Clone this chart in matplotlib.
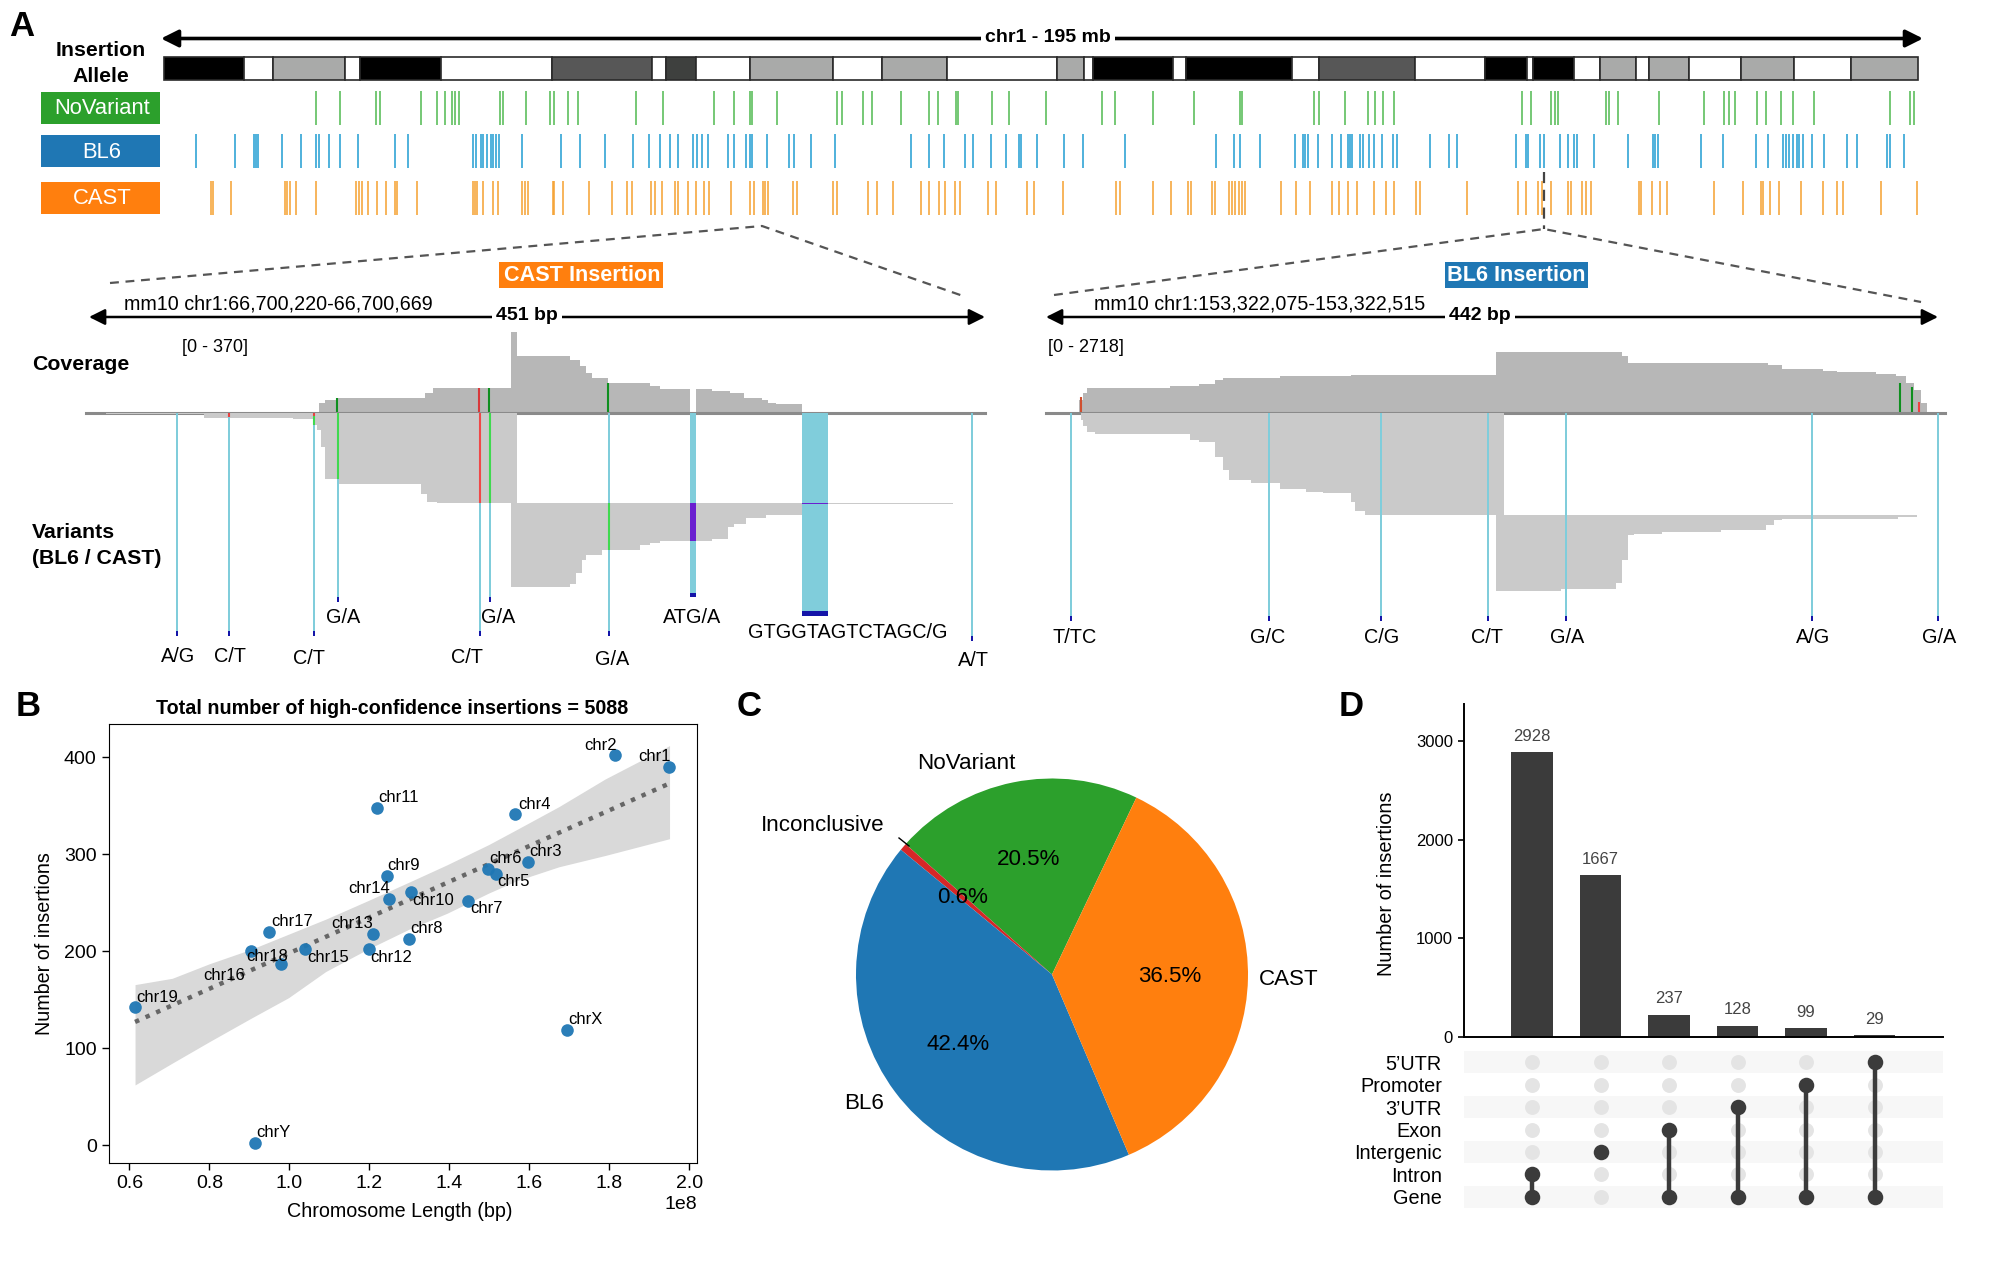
import numpy as np
import matplotlib
matplotlib.use("Agg")
import matplotlib.pyplot as plt

plt.rcParams['font.family'] = ['Liberation Sans', 'DejaVu Sans']

W, H = 2000, 1266

# ---- panel A: chr1 ideogram (Mb) ----
band_ends = [8.9, 12.1, 20.1, 21.8, 30.8, 43.1, 54.2, 55.8, 59.2, 65.1, 74.4, 79.8, 87.1, 99.3, 102.3, 103.3, 112.2,
             113.6, 125.4, 128.4, 139.1, 146.9, 151.5, 152.2, 156.8, 159.7, 163.6, 165.1, 169.5, 175.3, 181.2, 187.6, 195.0]
band_stain = ['k', 'w', 'g', 'w', 'k', 'w', 'd', 'w', 'x', 'w', 'g', 'w', 'g', 'w', 'g', 'w', 'k',
              'w', 'k', 'w', 'd', 'w', 'k', 'w', 'k', 'w', 'g', 'w', 'g', 'w', 'g', 'w', 'g']

novariant_pos = [16.9, 19.6, 23.6, 24.0, 28.6, 30.3, 31.2, 32.0, 32.3, 32.8, 37.3, 37.7, 40.2, 42.9, 43.4, 44.9, 46.0,
                 52.5, 55.5, 61.2, 63.4, 65.1, 65.4, 68.2, 74.8, 75.4, 77.7, 78.7, 81.9, 85.1, 86.0, 88.0, 88.3, 92.0,
                 93.9, 98.1, 104.3, 105.7, 109.9, 114.5, 119.6, 119.9, 127.9, 128.4, 131.3, 133.8, 134.6, 135.5, 136.8,
                 151.0, 152.0, 154.2, 154.6, 155.0, 160.3, 160.7, 161.6, 166.2, 171.2, 173.4, 174.0, 174.6, 177.1,
                 178.1, 179.8, 181.1, 183.4, 191.9, 194.1, 194.6]
bl6_pos = [3.6, 7.9, 10.0, 10.2, 10.5, 13.1, 15.2, 16.9, 17.2, 18.3, 19.6, 21.6, 25.7, 27.1, 34.3, 34.7, 35.2, 35.5,
           35.9, 36.3, 36.6, 36.9, 37.2, 39.8, 44.1, 46.3, 49.0, 52.1, 53.9, 55.1, 56.3, 57.1, 58.8, 59.3, 59.8, 60.5,
           62.7, 63.4, 64.7, 65.1, 65.4, 67.0, 69.5, 70.0, 71.9, 74.6, 83.0, 85.1, 86.7, 89.0, 89.9, 91.9,
           93.6, 95.0, 95.3, 97.0, 100.1, 102.2, 106.8, 117.0, 119.0, 119.6, 121.9, 125.7, 126.6, 126.9, 127.2, 128.3,
           129.8, 130.8, 131.6, 131.8, 132.1, 133.0, 133.3, 134.0, 134.5, 135.4, 136.6, 137.1, 140.8, 142.9, 143.7,
           150.3, 151.4, 151.6, 153.0, 153.4, 155.2, 156.1, 156.8, 157.1, 159.0, 162.8, 165.5, 165.8, 166.1, 170.9,
           173.3, 177.0, 178.3, 180.0, 180.3, 180.7, 181.1, 181.5, 181.8, 182.2, 183.2, 184.6, 187.1, 188.2, 191.6,
           191.9, 193.4]
cast_pos = [5.2, 5.5, 7.5, 13.4, 13.7, 14.0, 14.7, 16.9, 21.4, 21.7, 22.0, 22.7, 23.7, 24.7, 25.7, 25.9, 28.1, 34.4,
            34.6, 34.8, 35.5, 36.6, 37.1, 39.8, 40.1, 40.5, 43.2, 43.4, 44.4, 47.3, 49.8, 51.5, 52.0, 54.1, 54.6, 55.4,
            56.8, 57.1, 58.2, 59.1, 60.0, 60.6, 63.0, 65.1, 65.6, 66.6, 66.8, 67.2, 69.9, 70.4, 74.4, 74.8, 78.3, 79.3,
            81.0, 84.2, 85.0, 86.2, 86.8, 87.9, 88.5, 91.6, 92.5,
            95.9, 96.7, 100.0, 105.8, 106.3, 109.9, 111.9, 113.8, 114.2, 116.5, 116.8, 118.4, 118.7, 119.1, 119.5,
            119.9, 120.2, 124.2, 125.9, 127.4, 129.9, 130.6, 131.6, 132.6, 134.5, 135.9, 136.8, 139.2, 139.6, 144.9,
            150.5, 151.4, 152.7, 153.2, 154.2, 156.1, 156.4, 157.6, 158.1, 158.7, 164.0, 164.2, 165.4, 166.3, 167.1,
            172.3, 175.6, 177.6, 177.8, 178.5, 179.5, 182.0, 184.4, 186.0, 186.7, 190.9, 194.9]

# ---- panel A: CAST insertion locus (bp from window start) ----
cast_cov_x = [10, 117, 120, 126, 170, 174, 213, 216, 243, 248, 251, 254, 262, 283, 288, 303, 306, 314, 323, 330, 339, 342, 346, 359]
cast_cov_y = [3, 43, 58, 69, 89, 115, 370, 258, 243, 212, 181, 158, 135, 123, 107, 0, 107, 98, 89, 69, 58, 46, 41, 0]
cast_fwd_x = [10, 59, 104, 114, 116, 118, 120, 126, 168, 171, 176, 216]
cast_fwd_y = [2, 12, 14, 26, 37, 72, 140, 151, 172, 190, 192, 0]
cast_rev_x = [213, 243, 246, 249, 251, 259, 278, 283, 288, 314, 322, 325, 331, 341, 361, 435]
cast_rev_y = [371, 364, 342, 314, 303, 293, 282, 277, 273, 268, 243, 236, 225, 218, 195, 192]
cast_rev_top = 192
cast_var_x = [45, 71, 114, 126, 197, 202, 262, 303, 359, 444]
cast_var_w = [1, 1, 1, 1, 1, 1, 1, 3, 13, 1]
cast_var_end = [475, 475, 475, 403, 475, 403, 475, 393, 432, 486]
cast_allele = ['A/G', 'C/T', 'C/T', 'G/A', 'C/T', 'G/A', 'G/A', 'ATG/A', 'GTGGTAGTCTAGC/G', 'A/T']
cast_allele_x = [46, 72, 112, 129, 191, 207, 264, 304, 382, 445]
cast_allele_y = [518, 518, 522, 435, 520, 435, 524, 435, 467, 527]
cast_cov_marks = [(126, 69, '#0f8f1f'), (197, 115, '#d8383a'), (202, 115, '#0f8f1f'), (262, 135, '#0f8f1f')]
cast_read_marks = [(71, 0, 10, '#e84040'), (114, 0, 8, '#e84040'), (114, 8, 26, '#3fd94f'), (126, 0, 140, '#3fd94f'),
                   (197, 0, 192, '#f04848'), (202, 0, 192, '#3fd94f'), (262, 192, 293, '#3fd94f')]

# ---- panel A: BL6 insertion locus ----
bl6_cov_x = [16, 18, 20, 61, 75, 83, 87, 115, 150, 221, 283, 286, 355, 362, 382, 389, 408, 418, 423, 427, 430, 433]
bl6_cov_y = [594, 891, 1143, 1218, 1292, 1455, 1559, 1634, 1708, 2718, 2554, 2228, 2153, 1960, 1886, 1812, 1752, 1634, 1337, 1040, 446, 0]
bl6_fwd_x = [17, 18, 20, 24, 40, 71, 75, 83, 87, 90, 93, 101, 115, 128, 136, 150, 152, 157, 225]
bl6_fwd_y = [14, 28, 39, 43, 45, 57, 62, 92, 121, 142, 143, 149, 162, 167, 170, 188, 209, 217, 0]
bl6_rev_x = [221, 253, 280, 283, 286, 289, 303, 332, 354, 358, 362, 397, 419, 428]
bl6_rev_y = [378, 375, 362, 312, 259, 257, 252, 248, 238, 227, 225, 224, 220, 217]
bl6_rev_top = 217
bl6_var_x = [12, 109, 164, 217, 255, 376, 438]
bl6_var_w = [1, 1, 1, 1, 1, 1, 1]
bl6_var_end = [442, 442, 442, 442, 442, 442, 442]
bl6_allele = ['T/TC', 'G/C', 'C/G', 'C/T', 'G/A', 'A/G', 'G/A']
bl6_allele_x = [14, 109, 165, 217, 256, 377, 439]
bl6_allele_y = [478, 478, 478, 478, 478, 478, 478]
bl6_cov_marks = [(17, 740, '#d05030'), (420, 1337, '#0f8f1f'), (426, 1188, '#0f8f1f'), (429, 500, '#f04040')]
bl6_read_marks = []

# ---- panel B ----
chroms = ['chr1', 'chr2', 'chr3', 'chr4', 'chr5', 'chr6', 'chr7', 'chr8', 'chr9', 'chr10', 'chr11',
          'chr12', 'chr13', 'chr14', 'chr15', 'chr16', 'chr17', 'chr18', 'chr19', 'chrX', 'chrY']
chrom_len = [1.95, 1.815, 1.597, 1.565, 1.518, 1.497, 1.448, 1.30, 1.245, 1.305, 1.22,
             1.20, 1.21, 1.25, 1.04, 0.98, 0.95, 0.905, 0.615, 1.695, 0.915]
n_insertions = [390, 402, 292, 341, 280, 285, 252, 213, 278, 261, 348,
                202, 218, 254, 202, 187, 220, 200, 142, 119, 2]
label_x = [1.872, 1.738, 1.600, 1.573, 1.520, 1.499, 1.453, 1.303, 1.246, 1.308, 1.223,
           1.203, 1.104, 1.147, 1.044, 0.784, 0.955, 0.892, 0.617, 1.697, 0.918]
label_y = [400.8, 412.3, 302.4, 351.4, 271.6, 295.9, 244.2, 223.7, 288.5, 252.7, 358.3,
           193.6, 228.4, 264.2, 193.6, 174.7, 230.7, 194.4, 152.7, 130, 12.7]
trend_x = [0.614, 1.951]
trend_y = [127, 373]
ci_up_x = [.614, .707, .800, .905, .998, 1.091, 1.196, 1.301, 1.394, 1.499, 1.569, 1.674, 1.790, 1.951]
ci_up_y = [165.5, 172, 187, 202, 217.5, 233, 252, 271.5, 289, 310, 325.5, 349, 377.6, 412]
ci_lo_x = [.614, .707, .835, .905, .998, 1.091, 1.196, 1.301, 1.394, 1.499, 1.604, 1.709, 1.825, 1.951]
ci_lo_y = [62, 84.5, 115, 131, 152, 179, 202, 223, 239, 260, 279, 291, 302, 316]

# ---- panel C ----
pie_labels = ['NoVariant', 'Inconclusive', 'BL6', 'CAST']
pie_values = [20.5, 0.6, 42.4, 36.5]
pie_colors = ['#2ca02c', '#d62728', '#1f77b4', '#ff7f0e']

# ---- panel D ----
set_names = ['5’UTR', 'Promoter', '3’UTR', 'Exon', 'Intergenic', 'Intron', 'Gene']
bar_counts = [2928, 1667, 237, 128, 99, 29]
bar_heights = [2893, 1644, 228, 114, 87, 19]
memberships = [['Intron', 'Gene'], ['Intergenic'], ['Exon', 'Gene'], ['3’UTR', 'Gene'],
               ['Promoter', 'Gene'], ['5’UTR', 'Gene']]

fig = plt.figure(figsize=(W / 100, H / 100), dpi=100)


def px_axes(x0, y0, x1, y1):
    a = fig.add_axes([x0 / W, 1 - y1 / H, (x1 - x0) / W, (y1 - y0) / H])
    return a


# overlay in pixel units, for labels and guide lines
ov = px_axes(0, 0, W, H)
ov.set_xlim(0, W)
ov.set_ylim(H, 0)
ov.axis('off')
ov.set_zorder(5)


def hspan_arrow(x0, x1, y, lw, scale):
    ov.annotate('', xy=(x1, y), xytext=(x0, y),
                arrowprops=dict(arrowstyle='<|-|>', color='black', lw=lw, mutation_scale=scale,
                                shrinkA=0, shrinkB=0))


# ideogram
stain_colors = {'k': 'black', 'w': 'white', 'g': '#a9aaa9', 'd': '#575757', 'x': '#3e403e'}
ax = px_axes(164, 57, 1918, 80)
starts = [0] + band_ends[:-1]
widths = np.array(band_ends) - np.array(starts)
ax.barh(0.5, widths, left=starts, height=1, color=[stain_colors[s] for s in band_stain],
        edgecolor='#2a2a2a', linewidth=1.2, clip_on=False)
ax.set_xlim(0, 195)
ax.set_ylim(0, 1)
ax.axis('off')

# allele tracks
tracks = [(novariant_pos, '#4fb950', 91, 125), (bl6_pos, '#1f9dd2', 134, 168), (cast_pos, '#f5a02f', 181, 215)]
for pos, col, y0, y1 in tracks:
    ax = px_axes(164, y0, 1918, y1)
    ax.vlines(pos, 0, 1, color=col, linewidth=1.1)
    ax.set_xlim(0, 195)
    ax.set_ylim(0, 1)
    ax.axis('off')


def locus(x0, x1, y_top, y_base, y_end, span, cov_max, read_max, cov_x, cov_y, fwd_x, fwd_y, rev_x, rev_y, rev_top,
          var_x, var_w, var_end, allele, allele_x, allele_y, cov_marks, read_marks):
    cov = px_axes(x0, y_top, x1, y_base)
    cov.fill_between(cov_x, 0, cov_y, step='post', color='#b7b7b7', linewidth=0)
    for m_x, m_y, m_c in cov_marks:
        cov.vlines(m_x, 0, m_y, color=m_c, linewidth=1.5)
    cov.axhline(0, color='#8a8a8a', linewidth=2.2, clip_on=False, zorder=6)
    cov.set_xlim(0, span)
    cov.set_ylim(0, cov_max)
    cov.axis('off')

    reads = px_axes(x0, y_base, x1, y_end)
    reads.fill_between(fwd_x, 0, fwd_y, step='post', color='#cacaca', linewidth=0)
    reads.fill_between(rev_x, rev_top, rev_y, step='post', color='#cacaca', linewidth=0)
    reads.bar(var_x, var_end, width=var_w, color='#80cddb', linewidth=0, align='edge', zorder=3)
    tip = np.array(var_end) - 10
    reads.bar(var_x, [10] * len(var_x), bottom=tip, width=var_w, color='#1414a8', linewidth=0, align='edge', zorder=4)
    for m_x, m_a, m_b, m_c in read_marks:
        reads.vlines(m_x + 0.5, m_a, m_b, color=m_c, linewidth=1.5, zorder=5)
    for s, t_x, t_y in zip(allele, allele_x, allele_y):
        reads.text(t_x, t_y, s, ha='center', va='center', fontsize=14.3)
    reads.set_xlim(0, span)
    reads.set_ylim(read_max, 0)
    reads.axis('off')
    return reads


cast_reads = locus(86, 985, 332, 412.7, 667, 451, 370, 541, cast_cov_x, cast_cov_y, cast_fwd_x, cast_fwd_y, cast_rev_x,
                   cast_rev_y, cast_rev_top, cast_var_x, cast_var_w, cast_var_end, cast_allele, cast_allele_x,
                   cast_allele_y, cast_cov_marks, cast_read_marks)
# deletions seen as purple in the CAST reads
cast_reads.bar([303, 359], [81, 3], bottom=[192, 192], width=[3, 13], color='#6a1fd0', align='edge', zorder=5)
locus(1046, 1945, 352, 413.3, 667, 442, 2718, 540, bl6_cov_x, bl6_cov_y, bl6_fwd_x, bl6_fwd_y, bl6_rev_x, bl6_rev_y,
      bl6_rev_top, bl6_var_x, bl6_var_w, bl6_var_end, bl6_allele, bl6_allele_x, bl6_allele_y, bl6_cov_marks,
      bl6_read_marks)

# labels and guides for panel A
hspan_arrow(161, 1923, 38.5, 2.6, 26)
ov.text(1048, 37, 'chr1 - 195 mb', ha='center', va='center', fontsize=14, fontweight='bold',
        bbox=dict(facecolor='white', edgecolor='none', pad=3))
ov.text(22, 27, 'A', ha='center', va='center', fontsize=25, fontweight='bold')
ov.text(28, 706, 'B', ha='center', va='center', fontsize=25, fontweight='bold')
ov.text(749, 707, 'C', ha='center', va='center', fontsize=25, fontweight='bold')
ov.text(1351, 706, 'D', ha='center', va='center', fontsize=25, fontweight='bold')
ov.text(101, 51, 'Insertion', ha='center', va='center', fontsize=15.3, fontweight='bold')
ov.text(101, 76, 'Allele', ha='center', va='center', fontsize=15.3, fontweight='bold')

box_info = [('NoVariant', '#2ca02c', 92, 124), ('BL6', '#1f77b4', 135, 167), ('CAST', '#ff7f0e', 182, 214)]
for name, col, y0, y1 in box_info:
    ov.fill_between([41, 160], y0, y1, color=col, linewidth=0)
    ov.text(102, (y0 + y1) / 2 + 1, name, color='white', ha='center', va='center', fontsize=15.8)

ov.fill_between([499, 663], 262, 288, color='#ff7f0e', linewidth=0)
ov.text(582, 275.5, 'CAST Insertion', color='white', ha='center', va='center', fontsize=15.6, fontweight='bold')
ov.fill_between([1444.5, 1588], 262, 288, color='#1f77b4', linewidth=0)
ov.text(1516, 275.5, 'BL6 Insertion', color='white', ha='center', va='center', fontsize=15.6, fontweight='bold')

ov.plot([110, 762, 966], [283, 226, 297], color='#555555', linewidth=1.6, linestyle=(0, (4, 3)))
ov.plot([1054, 1544, 1921], [295, 229, 302], color='#555555', linewidth=1.6, linestyle=(0, (4, 3)))
ov.plot([1544, 1544], [172, 229], color='#444444', linewidth=1.6, linestyle=(0, (5, 3)))

ov.text(124, 304, 'mm10 chr1:66,700,220-66,700,669', ha='left', va='center', fontsize=14.2)
ov.text(1094, 304, 'mm10 chr1:153,322,075-153,322,515', ha='left', va='center', fontsize=14.2)
hspan_arrow(89, 985, 317, 1.8, 24)
hspan_arrow(1046, 1938, 317, 1.8, 24)
ov.text(527, 316, '451 bp', ha='center', va='center', fontsize=14, fontweight='bold',
        bbox=dict(facecolor='white', edgecolor='none', pad=3))
ov.text(1480, 316, '442 bp', ha='center', va='center', fontsize=14, fontweight='bold',
        bbox=dict(facecolor='white', edgecolor='none', pad=3))
ov.text(182, 348, '[0 - 370]', ha='left', va='center', fontsize=13)
ov.text(1048, 348, '[0 - 2718]', ha='left', va='center', fontsize=13)
ov.text(32, 365, 'Coverage', ha='left', va='center', fontsize=15.3, fontweight='bold')
ov.text(32, 532, 'Variants', ha='left', va='center', fontsize=15.3, fontweight='bold')
ov.text(32, 558, '(BL6 / CAST)', ha='left', va='center', fontsize=15.3, fontweight='bold')

# ---- B: insertions per chromosome ----
ax = px_axes(108.5, 724, 697, 1163)
len_bp = np.array(chrom_len) * 1e8
ax.fill_between(np.array(ci_up_x) * 1e8, ci_up_y, np.interp(ci_up_x, ci_lo_x, ci_lo_y), color='#d9d9d9', linewidth=0)
ax.plot(np.array(trend_x) * 1e8, trend_y, color='#666666', linewidth=3.2, linestyle=(0, (1, 1.6)))
ax.scatter(len_bp, n_insertions, s=82, color='#1f77b4', alpha=0.95, linewidth=0, zorder=3)
for name, t_x, t_y in zip(chroms, label_x, label_y):
    ax.text(t_x * 1e8, t_y, name, fontsize=12, ha='left', va='center', zorder=4)
ax.set_xlim(0.5476e8, 2.0197e8)
ax.set_ylim(-18.5, 434.3)
ax.set_xticks(np.array([0.6, 0.8, 1.0, 1.2, 1.4, 1.6, 1.8, 2.0]) * 1e8)
ax.set_yticks([0, 100, 200, 300, 400])
ax.tick_params(labelsize=14, length=5, width=1)
ax.xaxis.get_offset_text().set_fontsize(14)
ax.set_xlabel('Chromosome Length (bp)', fontsize=14.2, labelpad=7, x=0.495)
ax.set_ylabel('Number of insertions', fontsize=14.2, labelpad=7)
ov.text(392, 709, 'Total number of high-confidence insertions = 5088', ha='center', va='center',
        fontsize=14.2, fontweight='bold')

# ---- C: allele pie ----
ax = px_axes(856, 778.5, 1248, 1170.5)
wedges, texts, autotexts = ax.pie(pie_values, labels=pie_labels, colors=pie_colors, startangle=64.5,
                                  autopct='%1.1f%%', pctdistance=0.6, labeldistance=1.1,
                                  textprops={'fontsize': 16.1})
for t in autotexts:
    t.set_fontsize(16.1)
# labels sit a little off the default ring
label_shift = [(0.032, 0.0), (-0.02, 0.046), (0.026, 0.0), (-0.046, 0.0)]
for t, (dx, dy) in zip(texts, label_shift):
    lx, ly = t.get_position()
    t.set_position((lx + dx, ly + dy))
ax.set_xlim(-1, 1)
ax.set_ylim(-1, 1)
ov.plot([899, 909], [838, 846], color='black', linewidth=1)

# ---- D: upset plot ----
ax = px_axes(1463.5, 704, 1943, 1037)
cols = np.arange(len(bar_counts))
ax.bar(cols, bar_heights, width=0.6, color='#3b3b3b')
for c, v, h in zip(cols, bar_counts, bar_heights):
    ax.annotate(str(v), (c, h), xytext=(0, 6), textcoords='offset points', ha='center', va='bottom',
                fontsize=12, color='#444444')
ax.set_xlim(-1, 6)
ax.set_ylim(0, 3380)
ax.set_yticks([0, 1000, 2000, 3000])
ax.tick_params(axis='y', labelsize=12, length=4, width=1.2)
ax.tick_params(axis='x', bottom=False, labelbottom=False)
ax.spines['top'].set_visible(False)
ax.spines['right'].set_visible(False)
ax.spines['left'].set_linewidth(1.4)
ax.spines['bottom'].set_linewidth(1.4)
ov.text(1386, 884, 'Number of insertions', rotation=90, ha='center', va='center', fontsize=14.4)

mat = px_axes(1463.5, 1051, 1943, 1208)
rows = np.arange(len(set_names))
for r in rows[::2]:
    mat.axhspan(r - 0.48, r + 0.48, color='#f7f7f7', linewidth=0, zorder=0)
grid_x, grid_y = np.meshgrid(cols, rows)
mat.scatter(grid_x.ravel(), grid_y.ravel(), s=115, color='#e4e4e4', linewidth=0, zorder=1)
for c, members in zip(cols, memberships):
    member_rows = [set_names.index(m) for m in members]
    mat.plot([c, c], [min(member_rows), max(member_rows)], color='#3b3b3b', linewidth=3.2, zorder=2)
    mat.scatter([c] * len(member_rows), member_rows, s=125, color='#3b3b3b', linewidth=0, zorder=3)
mat.set_xlim(-1, 6)
mat.set_ylim(6.5, -0.5)
mat.set_xticks([])
mat.set_yticks(rows)
mat.set_yticklabels(set_names, fontsize=14.3, va='center_baseline')
mat.tick_params(axis='y', length=0, pad=15.5)
for s in mat.spines.values():
    s.set_visible(False)

fig.savefig('out.png', dpi=100)
